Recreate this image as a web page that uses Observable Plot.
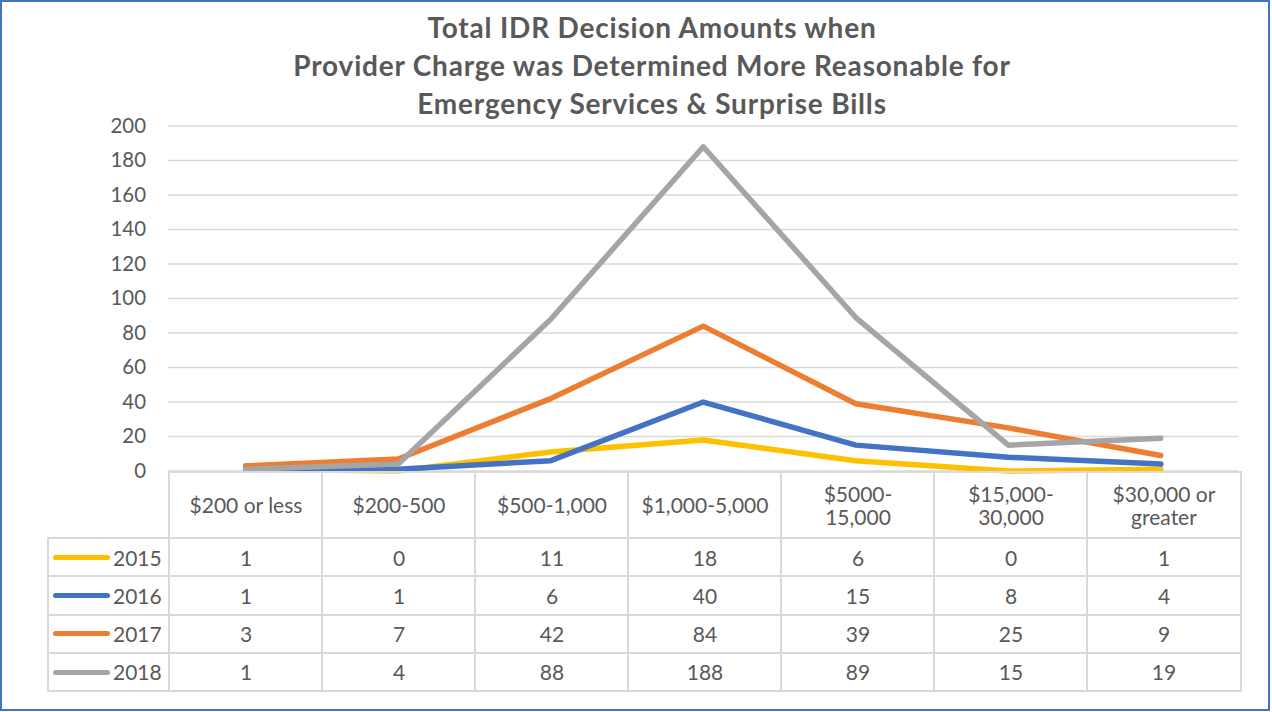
<!DOCTYPE html>
<html>
<head>
<meta charset="utf-8">
<script src="https://cdn.jsdelivr.net/npm/d3@7"></script>
<script src="https://cdn.jsdelivr.net/npm/@observablehq/plot@0.6"></script>
<style>
  body { margin: 0; background: #fff; }
  #frame { position: relative; width: 1270px; height: 711px; box-sizing: border-box; border: 2px solid #4472C4; background: #fff; overflow: hidden; font-family: Lato, "Open Sans", sans-serif; color: #595959; }
  #title { position: absolute; left: 17px; top: 6px; width: 1266px; text-align: center; font-weight: bold; font-size: 28px; letter-spacing: 0.8px; line-height: 38px; color: #595959; }
  #chart { position: absolute; left: -2px; top: -2px; }
  .cell { position: absolute; box-sizing: border-box; display: flex; align-items: center; justify-content: center; text-align: center; font-size: 21px; color: #595959; line-height: 1.1; }
  .line { position: absolute; background: #d9d9d9; }
</style>
</head>
<body>
<div id="frame">
  <div id="chart"></div>
  <div id="title">Total IDR Decision Amounts when<br>Provider Charge was Determined More Reasonable for<br>Emergency Services &amp; Surprise Bills</div>
</div>
<script>
const categories = ["$200 or less", "$200-500", "$500-1,000", "$1,000-5,000", "$5000-15,000", "$15,000-30,000", "$30,000 or greater"];
const headerLabels = ["$200 or less", "$200-500", "$500-1,000", "$1,000-5,000", "$5000-<br>15,000", "$15,000-<br>30,000", "$30,000 or<br>greater"];
const years = ["2015", "2016", "2017", "2018"];
const colors = ["#FFC000", "#4472C4", "#ED7D31", "#A5A5A5"];
const v2015 = [1, 0, 11, 18, 6, 0, 1];
const v2016 = [1, 1, 6, 40, 15, 8, 4];
const v2017 = [3, 7, 42, 84, 39, 25, 9];
const v2018 = [1, 4, 88, 188, 89, 15, 19];
const yTicks = [0, 20, 40, 60, 80, 100, 120, 140, 160, 180, 200];

const seriesValues = [v2015, v2016, v2017, v2018];
const data = years.flatMap((yr, i) => categories.map((c, j) => ({year: yr, cat: c, value: seriesValues[i][j]})));

const plot = Plot.plot({
  width: 1272,
  height: 480,
  marginTop: 126,
  marginBottom: 8,
  marginLeft: 168,
  marginRight: 30,
  style: {fontFamily: "Lato, 'Open Sans', sans-serif", background: "transparent", overflow: "visible"},
  x: {type: "point", domain: categories, padding: 0.5, axis: null},
  y: {domain: [0, 200], axis: null},
  color: {domain: years, range: colors},
  marks: [
    Plot.ruleY(yTicks, {stroke: "#d9d9d9", strokeWidth: 1.5}),
    Plot.axisY({ticks: yTicks, tickSize: 0, tickPadding: 22, fontSize: 20.5, fill: "#595959", label: null}),
    Plot.line(data, {x: "cat", y: "value", z: "year", stroke: "year", strokeWidth: 5.5, strokeLinejoin: "round", strokeLinecap: "round"})
  ]
});
document.getElementById("chart").appendChild(plot);

// Data table aligned to the plot's x scale
const xs = plot.scale("x");
const ys = plot.scale("y");
const step = (xs.range[1] - xs.range[0]) / (categories.length - 1 + 2 * 0.5);
const off = -2; // frame border offset
const frame = document.getElementById("frame");
const tableTop = ys.apply(0) + off;
const headerH = 66;
const rowH = 38.3;
const legendLeft = 48 + off;
const colLeft = categories.map(c => xs.apply(c) - step / 2 + off);
const tableRight = xs.apply(categories[categories.length - 1]) + step / 2 + off;
const bw = 2;

function addLine(x, y, w, h) {
  const d = document.createElement("div");
  d.className = "line";
  Object.assign(d.style, {left: x + "px", top: y + "px", width: w + "px", height: h + "px"});
  frame.appendChild(d);
}
function addCell(x, y, w, h, html) {
  const d = document.createElement("div");
  d.className = "cell";
  Object.assign(d.style, {left: x + "px", top: y + "px", width: w + "px", height: h + "px"});
  d.innerHTML = html;
  frame.appendChild(d);
  return d;
}

// header cells
categories.forEach((c, j) => addCell(colLeft[j], tableTop, step, headerH, headerLabels[j]));
// body cells
years.forEach((yr, i) => {
  const top = tableTop + headerH + i * rowH;
  const lc = addCell(legendLeft, top, colLeft[0] - legendLeft, rowH, "");
  lc.style.justifyContent = "flex-start";
  lc.innerHTML = `<span style="display:inline-block;width:57px;height:5px;border-radius:3px;background:${colors[i]};margin-left:5px;margin-right:3px"></span><span style="font-size:21px">${yr}</span>`;
  categories.forEach((c, j) => addCell(colLeft[j], top, step, rowH, String(seriesValues[i][j])));
});
// grid lines of table
const bodyTop = tableTop + headerH;
const bottom = bodyTop + years.length * rowH;
addLine(colLeft[0] - 1, tableTop - 1, tableRight - colLeft[0] + 2, bw);
for (let i = 0; i <= years.length; i++) addLine(legendLeft - 1, bodyTop + i * rowH - 1, tableRight - legendLeft + 2, bw);
addLine(legendLeft - 1, bodyTop - 1, bw, bottom - bodyTop + 2);
colLeft.forEach(x => addLine(x - 1, tableTop - 1, bw, bottom - tableTop + 2));
addLine(tableRight - 1, tableTop - 1, bw, bottom - tableTop + 2);
</script>
</body>
</html>
